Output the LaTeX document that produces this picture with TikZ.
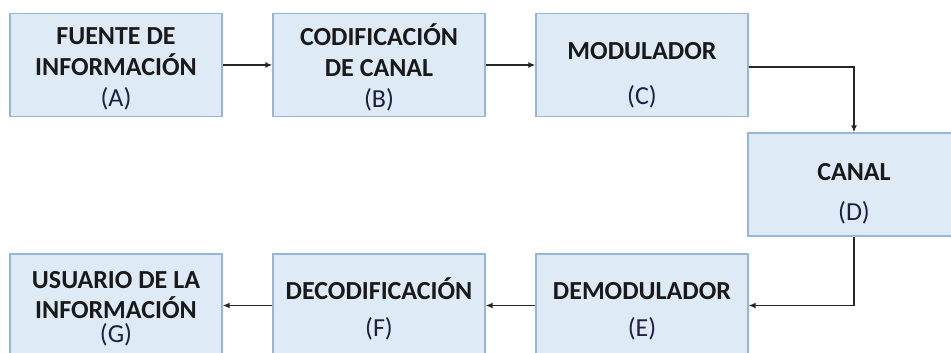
\documentclass[tikz,border=0pt]{standalone}
\usepackage{fontspec}
\setmainfont{Carlito}
\usetikzlibrary{arrows.meta}
\definecolor{boxfill}{RGB}{222,234,246}
\definecolor{boxline}{RGB}{150,182,216}
\definecolor{lblink}{RGB}{30,32,64}
\newcommand{\blocklbl}[1]{{\mdseries\color{lblink}(#1)}}
\newcommand{\lowerby}[1]{\rule{0pt}{#1}}
\tikzset{
    block/.style={draw=boxline, fill=boxfill, line width=1.3pt,
        minimum width=212pt, minimum height=103pt, inner sep=0pt,
        align=center, text=black!90,
        font=\fontsize{26}{31}\selectfont\bfseries},
    flow/.style={-{Latex[length=7pt,width=6pt]}, line width=1.6pt, black!85}
}
\begin{document}
\begin{tikzpicture}[x=1pt,y=-1pt]
            \useasboundingbox (0,0) rectangle (951,353);
            \node[block] (fuente)   at (116,  65)   {\lowerby{24pt}FUENTE DE\\INFORMACIÓN\\\blocklbl{A}};
            \node[block] (codif)    at (379,  65)   {\lowerby{27pt}CODIFICACIÓN\\DE CANAL\\\blocklbl{B}};
            \node[block] (modul)    at (642,  65)   {\lowerby{37pt}MODULADOR\\[14pt]\blocklbl{C}};
            \node[block] (canal)    at (854,  184.5){\lowerby{35pt}CANAL\\[9pt]\blocklbl{D}};
            \node[block] (demod)    at (642,  305.5){\lowerby{28pt}DEMODULADOR\\[6pt]\blocklbl{E}};
            \node[block] (decod)    at (379,  305.5){\lowerby{28pt}DECODIFICACIÓN\\[6pt]\blocklbl{F}};
            \node[block] (usuario)  at (116,  305.5){\lowerby{24pt}USUARIO DE LA\\[-1pt]INFORMACIÓN\\[-7pt]\blocklbl{G}};
            \draw[flow] (fuente) -- (codif);
            \draw[flow] (codif) -- (modul);
            \draw[flow] ([yshift=-2pt]modul.east) -| (canal.north);
            \draw[flow] (canal.south) |- (demod.east);
            \draw[flow] (demod) -- (decod);
            \draw[flow] (decod) -- (usuario);
        \end{tikzpicture}
\end{document}
